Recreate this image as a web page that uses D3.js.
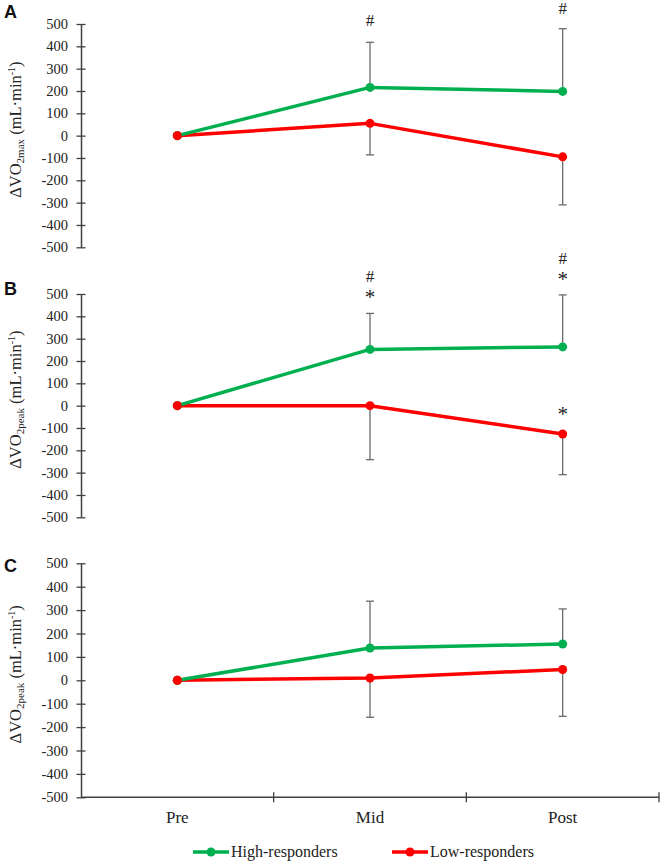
<!DOCTYPE html>
<html><head><meta charset="utf-8">
<script src="https://cdn.jsdelivr.net/npm/d3@7"></script>
<style>body{margin:0;background:#fff}svg{display:block}</style>
</head><body><svg id="c" width="661" height="862"></svg>
<script>
const categories = ["Pre", "Mid", "Post"];
const yTicks = [-500, -400, -300, -200, -100, 0, 100, 200, 300, 400, 500];
const seriesNames = ["High-responders", "Low-responders"];

// Panel A: ΔVO2max
const highA = [0, 216, 198];
const highAErr = [0, 202, 281];   // upward SD
const lowA = [0, 55, -95];
const lowAErr = [0, 141, 215];    // downward SD
// Panel B: ΔVO2peak
const highB = [0, 252, 263];
const highBErr = [0, 161, 233];
const lowB = [0, 0, -127];
const lowBErr = [0, 242, 182];
// Panel C: ΔVO2peak
const highC = [0, 138, 155];
const highCErr = [0, 200, 150];
const lowC = [0, 10, 46];
const lowCErr = [0, 168, 200];

// significance marks: [panel, series, category, symbols bottom->top]
const marks = [
  ["A", "high", "Mid", ["#"]],
  ["A", "high", "Post", ["#"]],
  ["B", "high", "Mid", ["*", "#"]],
  ["B", "high", "Post", ["*", "#"]],
  ["B", "low", "Post", ["*"]]
];

const panels = [
  {id: "A", sub: "2max", high: highA, highErr: highAErr, low: lowA, lowErr: lowAErr, top: 24, bottom: 247.3},
  {id: "B", sub: "2peak", high: highB, highErr: highBErr, low: lowB, lowErr: lowBErr, top: 294, bottom: 517.3},
  {id: "C", sub: "2peak", high: highC, highErr: highCErr, low: lowC, lowErr: lowCErr, top: 563.3, bottom: 797.3}
];

const GREEN = "#00B050", RED = "#FF0000", AXIS = "#404040", ERR = "#6b6b6b";
const serif = "'Liberation Serif','Times New Roman',serif";
const svg = d3.select("#c");
const x = d3.scaleBand().domain(categories).range([81, 659]).padding(0);
const cx = c => x(c) + x.bandwidth() / 2;

panels.forEach((p, pi) => {
  const y = d3.scaleLinear().domain([-500, 500]).range([p.bottom, p.top]);
  const g = svg.append("g");

  // y axis
  const ax = g.append("g").attr("transform", "translate(81,0)")
    .call(d3.axisLeft(y).tickValues(yTicks).tickSize(0).tickPadding(13).tickFormat(d => String(d)));
  ax.attr("font-family", serif).attr("font-size", 14.5);
  ax.select(".domain").attr("stroke", AXIS).attr("stroke-width", 1.5);
  ax.selectAll(".tick line").remove();
  ax.selectAll(".tick").append("line").attr("x1", -4.5).attr("x2", 4.5)
    .attr("stroke", AXIS).attr("stroke-width", 1.3);
  ax.selectAll(".tick text").attr("font-family", serif).attr("font-size", 14.5).attr("fill", "#222");

  // y title
  const ty = (p.top + p.bottom) / 2 - 6;
  const t = g.append("text").attr("transform", `translate(21,${ty}) rotate(-90)`)
    .attr("text-anchor", "middle").attr("font-family", serif).attr("font-size", 16.5).attr("fill", "#222");
  t.append("tspan").text("ΔVO");
  t.append("tspan").text(p.sub).attr("font-size", 11).attr("dy", 3);
  t.append("tspan").text(" (mL·min").attr("dy", -3);
  t.append("tspan").text("-1").attr("font-size", 10).attr("dy", -6);
  t.append("tspan").text(")").attr("dy", 6);

  // panel letter
  g.append("text").attr("x", 4)
    .attr("font-family", "'Liberation Sans',Arial,sans-serif").attr("font-weight", "bold")
    .attr("font-size", 18).attr("fill", "#111").text(p.id)
    .attr("y", [18, 295, 572][pi]);

  // error bars
  const bars = [];
  categories.forEach((c, i) => {
    if (p.highErr[i] > 0) bars.push({c, from: p.high[i], to: p.high[i] + p.highErr[i]});
    if (p.lowErr[i] > 0) bars.push({c, from: p.low[i], to: p.low[i] - p.lowErr[i]});
  });
  const eb = g.append("g").attr("stroke", ERR).attr("stroke-width", 1.3);
  bars.forEach(b => {
    eb.append("line").attr("x1", cx(b.c)).attr("x2", cx(b.c)).attr("y1", y(b.from)).attr("y2", y(b.to));
    eb.append("line").attr("x1", cx(b.c) - 4).attr("x2", cx(b.c) + 4).attr("y1", y(b.to)).attr("y2", y(b.to));
  });

  // lines
  const line = d3.line().x((d, i) => cx(categories[i])).y(d => y(d));
  [[p.low, RED], [p.high, GREEN]].forEach(([vals, col]) => {
    g.append("path").datum(vals).attr("d", line).attr("fill", "none")
      .attr("stroke", col).attr("stroke-width", 3.5).attr("stroke-linejoin", "round");
    g.selectAll(null).data(vals).enter().append("circle")
      .attr("cx", (d, i) => cx(categories[i])).attr("cy", d => y(d)).attr("r", 4.5).attr("fill", col);
  });
  g.append("circle").attr("cx", cx("Pre")).attr("cy", y(p.low[0])).attr("r", 4.5).attr("fill", RED);

  // significance marks
  marks.filter(m => m[0] === p.id).forEach(([pid, s, c, syms]) => {
    const i = categories.indexOf(c);
    const anchor = s === "high" ? y(p.high[i] + p.highErr[i]) : y(p.low[i]);
    let base = anchor;
    syms.forEach((sym, k) => {
      let yy;
      if (k === 0) yy = base - (sym === "#" ? 16 : (s === "low" ? 13 : 9));
      else yy = base - 22;
      yy = Math.max(yy, 14);
      g.append("text").attr("x", cx(c)).attr("y", yy).attr("text-anchor", "middle")
        .attr("font-family", serif).attr("font-size", sym === "*" ? 21 : 17).attr("fill", "#222").text(sym);
      base = yy;
    });
  });

  // x axis on last panel
  if (pi === panels.length - 1) {
    const yb = p.bottom;
    g.append("line").attr("x1", 81).attr("x2", 659).attr("y1", yb).attr("y2", yb)
      .attr("stroke", AXIS).attr("stroke-width", 1.5);
    const bounds = categories.map(c => x(c)).concat([x.range()[1]]).slice(1);
    bounds.forEach(bx => g.append("line").attr("x1", bx).attr("x2", bx).attr("y1", yb - 5).attr("y2", yb + 5)
      .attr("stroke", AXIS).attr("stroke-width", 1.3));
    categories.forEach(c => g.append("text").attr("x", cx(c)).attr("y", yb + 26).attr("text-anchor", "middle")
      .attr("font-family", serif).attr("font-size", 17).attr("fill", "#222").text(c));
  }
});

// legend
const leg = svg.append("g");
const legItems = [{name: seriesNames[0], col: GREEN, x0: 193}, {name: seriesNames[1], col: RED, x0: 392}];
const ly = 852;
legItems.forEach(d => {
  leg.append("line").attr("x1", d.x0).attr("x2", d.x0 + 36).attr("y1", ly).attr("y2", ly)
    .attr("stroke", d.col).attr("stroke-width", 3.5);
  leg.append("circle").attr("cx", d.x0 + 18).attr("cy", ly).attr("r", 4.5).attr("fill", d.col);
  leg.append("text").attr("x", d.x0 + 38).attr("y", ly + 5).attr("font-family", serif)
    .attr("font-size", 16).attr("fill", "#222").text(d.name);
});
</script></body></html>
